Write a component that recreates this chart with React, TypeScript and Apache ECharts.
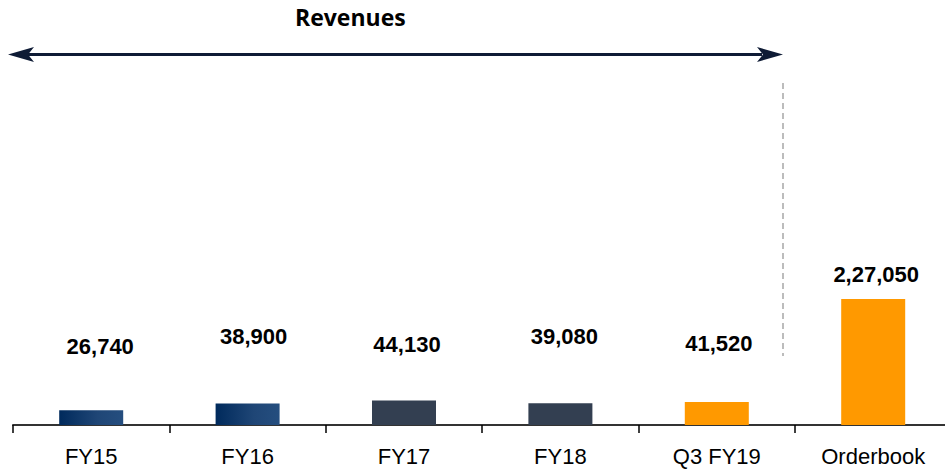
import React, { useEffect, useRef } from 'react';
import * as echarts from 'echarts';

const categories = ['FY15', 'FY16', 'FY17', 'FY18', 'Q3 FY19', 'Orderbook'];
const values = [26740, 38900, 44130, 39080, 41520, 227050];
const barKinds = ['blue', 'blue', 'slate', 'slate', 'orange', 'orange'];
// label nudges (styling only), [dx, dy] in px
const labelNudges = [[9, -48], [6, -51], [3, -40], [4, -51], [2, -42], [3, -8]];

function formatIndian(n: number): string {
  const s = String(Math.round(n));
  if (s.length <= 3) return s;
  const last3 = s.slice(-3);
  let rest = s.slice(0, -3);
  const parts: string[] = [];
  while (rest.length > 2) {
    parts.unshift(rest.slice(-2));
    rest = rest.slice(0, -2);
  }
  if (rest) parts.unshift(rest);
  return parts.join(',') + ',' + last3;
}

function colorFor(kind: string): any {
  if (kind === 'blue') {
    return new echarts.graphic.LinearGradient(0, 0, 1, 0, [
      { offset: 0, color: '#002a5c' },
      { offset: 0.6, color: '#1f4676' },
      { offset: 1, color: '#254e7f' },
    ]);
  }
  if (kind === 'slate') return '#333f51';
  return '#ff9900';
}

export default function App() {
  const ref = useRef<HTMLDivElement>(null);
  useEffect(() => {
    if (!ref.current) return;
    const chart = echarts.init(ref.current, null, { renderer: 'svg' });
    const font = "'Liberation Sans', Arial, sans-serif";
    chart.setOption({
      animation: false,
      backgroundColor: '#ffffff',
      grid: { left: 13, right: 0.6, top: 92, bottom: 47, containLabel: false },
      xAxis: {
        type: 'category',
        data: categories,
        axisLine: { show: true, lineStyle: { color: '#333333', width: 2 } },
        axisTick: { show: true, inside: false, length: 8, lineStyle: { color: '#000000', width: 1.5 } },
        axisLabel: { color: '#000000', fontSize: 22, fontFamily: font, margin: 20 },
      },
      yAxis: {
        type: 'value',
        min: 0,
        max: 600000,
        show: false,
        splitLine: { show: false },
      },
      series: [
        {
          type: 'bar',
          barWidth: 64,
          data: values.map((v, i) => ({
            value: v,
            itemStyle: { color: colorFor(barKinds[i]) },
            label: { offset: labelNudges[i] },
          })),
          label: {
            show: true,
            position: 'top',
            distance: 5,
            color: '#000000',
            fontSize: 22,
            fontWeight: 'bold',
            fontFamily: font,
            formatter: (p: any) => formatIndian(p.value),
          },
        },
      ],
      graphic: [
        {
          type: 'text',
          left: 295,
          top: 5,
          style: {
            text: 'Revenues',
            fill: '#000000',
            font: "bold 23px 'Open Sans', 'Liberation Sans', sans-serif",
          },
        },
        {
          type: 'line',
          shape: { x1: 28, y1: 54.5, x2: 762, y2: 54.5 },
          style: { stroke: '#0e1b35', lineWidth: 3 },
        },
        {
          type: 'polygon',
          shape: { points: [[8, 54.5], [34, 47], [28, 54.5], [34, 62]] },
          style: { fill: '#0e1b35' },
        },
        {
          type: 'polygon',
          shape: { points: [[783, 54.5], [757, 47], [763, 54.5], [757, 62]] },
          style: { fill: '#0e1b35' },
        },
        {
          type: 'line',
          shape: { x1: 783, y1: 83, x2: 783, y2: 356 },
          style: { stroke: '#a6a6a6', lineWidth: 1.5, lineDash: [6, 4] },
        },
      ],
    });
    return () => chart.dispose();
  }, []);
  return (
    <div
      style={{ position: 'absolute', left: 0, top: 0, width: 945, height: 472, overflow: 'hidden', background: '#fff' }}
    >
      <div ref={ref} style={{ width: 952, height: 472 }} />
    </div>
  );
}
